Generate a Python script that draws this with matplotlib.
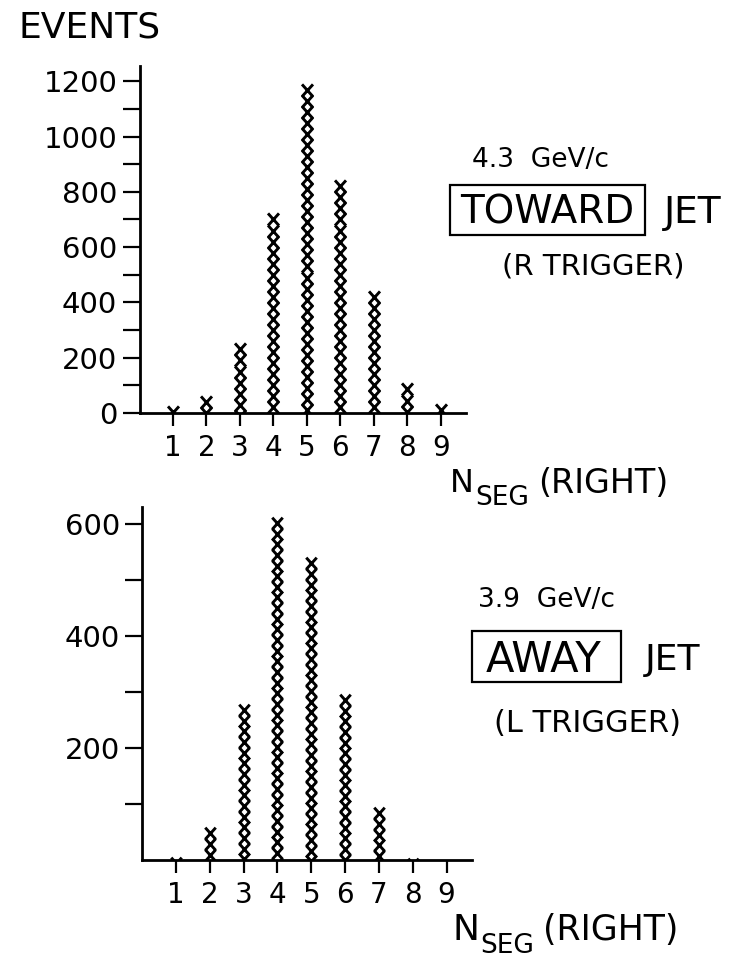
import numpy as np
import matplotlib
matplotlib.use("Agg")
import matplotlib.pyplot as plt
from matplotlib.path import Path
from matplotlib.patches import Rectangle

# N_SEG bins and event counts
nseg = [1, 2, 3, 4, 5, 6, 7, 8, 9]
toward_counts = [25, 60, 250, 720, 1190, 840, 440, 105, 30]
away_counts = [5, 57, 277, 611, 539, 295, 93, 3, 0]

W, H = 734, 958
plt.rcParams['font.family'] = ['DejaVu Sans']

fig = plt.figure(figsize=(W / 100, H / 100), dpi=100)

# x-shaped glyph, stacked into columns like the hand-plotted original
xmark = Path([(-0.45, -0.5), (0.45, 0.5), (-0.45, 0.5), (0.45, -0.5)],
             [Path.MOVETO, Path.LINETO, Path.MOVETO, Path.LINETO])


def px(x, y):
    return x / W, 1 - y / H


def draw_panel(rect, counts, step, ymax, major, minor, labels, msize):
    ax = fig.add_axes(rect)
    for n, c in zip(nseg, counts):
        ys = np.arange(c - step / 2, -step / 2, -step)
        ax.plot(np.full(len(ys), n), ys, linestyle='none', marker=xmark,
                markersize=msize, markeredgewidth=2.1, color='k')
    ax.set_xlim(0, 9.75)
    ax.set_ylim(0, ymax)
    ax.spines['top'].set_visible(False)
    ax.spines['right'].set_visible(False)
    ax.spines['left'].set_linewidth(2.0)
    ax.spines['bottom'].set_linewidth(2.0)
    ax.set_xticks(nseg)
    ax.set_xticklabels([str(n) for n in nseg])
    ax.set_yticks(major)
    ax.set_yticklabels(labels)
    ax.set_yticks(minor, minor=True)
    ax.tick_params(axis='x', direction='out', length=9, width=1.6,
                   pad=6, labelsize=20)
    ax.tick_params(axis='y', which='both', direction='out', length=12,
                   width=1.6, pad=4, labelsize=21)
    return ax


# top panel: TOWARD jet
l, b = px(139.5, 413)
draw_panel([l, b, (466 - 139.5) / W, (413 - 66) / H], toward_counts,
           40, 1255, [0, 200, 400, 600, 800, 1000, 1200],
           [100, 300, 500, 700, 900, 1100],
           ['0', '200', '400', '600', '800', '1000', '1200'], 8.8)

# bottom panel: AWAY jet
l, b = px(142, 860)
draw_panel([l, b, (472 - 142) / W, (860 - 507) / H], away_counts,
           19, 630, [200, 400, 600], [100, 300, 500],
           ['200', '400', '600'], 8.4)


def label(x, y, s, size, ha='left'):
    fx, fy = px(x, y)
    fig.text(fx, fy, s, fontsize=size, ha=ha, va='baseline')


label(18, 37, 'EVENTS', 26)

# top annotations
label(541, 167, '4.3  GeV/c', 19, ha='center')
label(547, 223, 'TOWARD', 28, ha='center')
label(693, 223, 'JET', 27, ha='center')
label(593, 275, '(R TRIGGER)', 21, ha='center')
label(450, 492, 'N', 23)
label(475, 505, 'SEG', 19)
label(538, 493, '(RIGHT)', 24)

# bottom annotations
label(547, 607, '3.9  GeV/c', 19, ha='center')
label(544, 672, 'AWAY', 30, ha='center')
label(673, 670, 'JET', 26, ha='center')
label(587, 732, '(L TRIGGER)', 22, ha='center')
label(453, 940, 'N', 26)
label(480, 953, 'SEG', 19)
label(543, 940, '(RIGHT)', 25)

for (x0, y0, x1, y1) in [(450, 185, 645, 235), (472, 631, 621, 682)]:
    fx, fy = px(x0, y1)
    fig.patches.append(Rectangle((fx, fy), (x1 - x0) / W, (y1 - y0) / H,
                                 transform=fig.transFigure, fill=False,
                                 linewidth=1.6, edgecolor='k'))

fig.savefig('out.png', dpi=100)
